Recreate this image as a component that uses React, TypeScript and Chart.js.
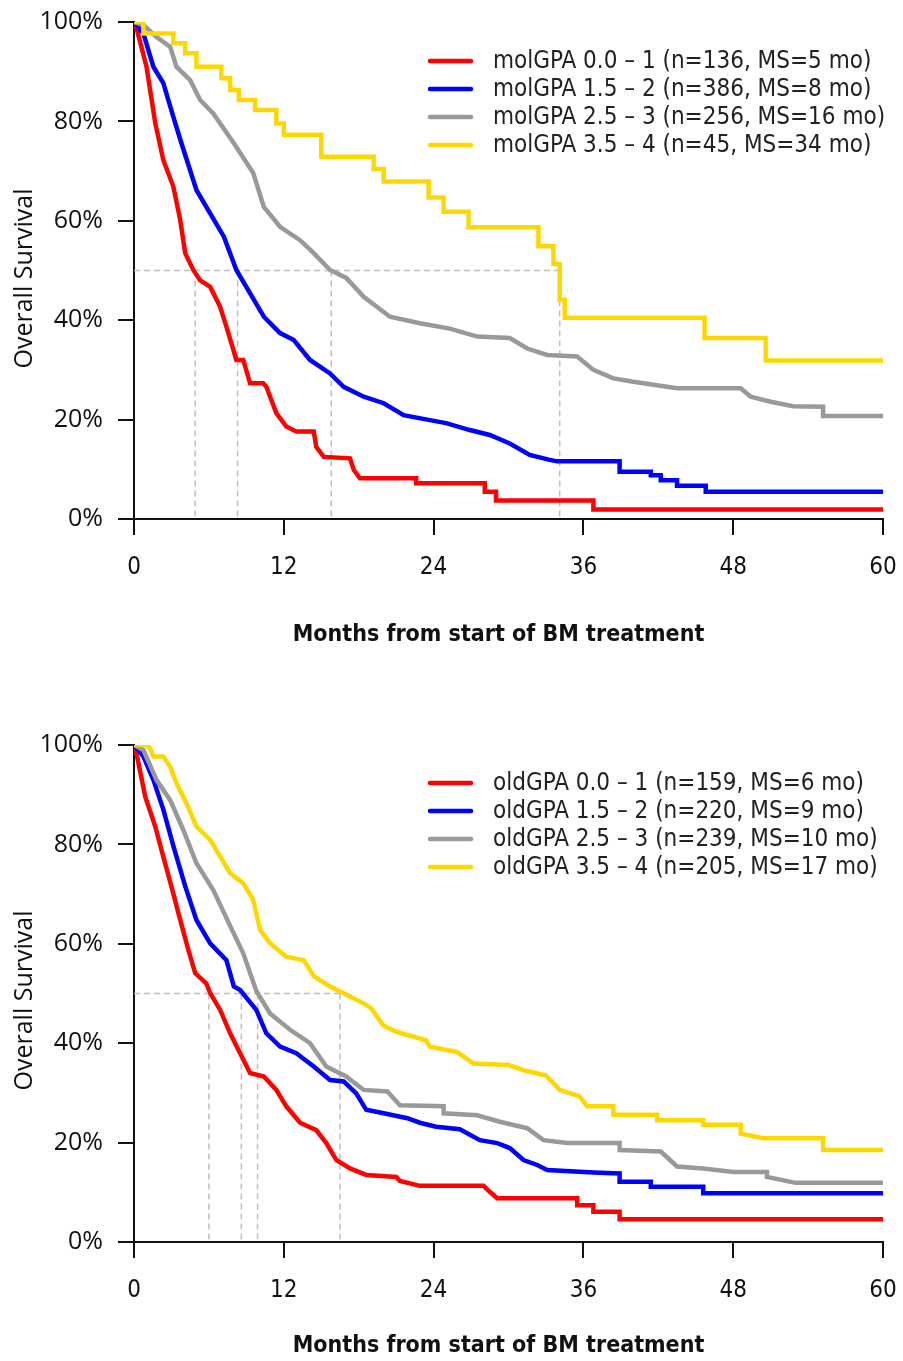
import React, { useEffect, useRef } from 'react';
import { Chart, registerables } from 'chart.js';

Chart.register(...registerables);

type Pt = [number, number];

// ---------- shared axis data ----------
const monthTicks = [0, 12, 24, 36, 48, 60];
const survivalTicks = [0, 20, 40, 60, 80, 100];
const seriesColors = ['#ff0000', '#0000ff', '#999999', '#ffd700'];
const xTitle = 'Months from start of BM treatment';
const yTitle = 'Overall Survival';

// ---------- top panel: molGPA ----------
const molLabels = [
  'molGPA 0.0 \u2013 1 (n=136, MS=5 mo)',
  'molGPA 1.5 \u2013 2 (n=386, MS=8 mo)',
  'molGPA 2.5 \u2013 3 (n=256, MS=16 mo)',
  'molGPA 3.5 \u2013 4 (n=45, MS=34 mo)',
];
const molMedians = [4.9, 8.3, 15.8, 34.1];

const molGpa0to1: Pt[] = [
  [0, 100], [0.2, 98.8], [1.0, 91], [1.7, 79.7], [2.35, 72.2], [3.15, 66.9], [3.7, 60.2],
  [4.1, 53.5], [4.75, 50.1], [5.3, 48], [6.1, 46.7], [6.9, 42.7], [7.4, 38.7], [8.2, 32],
  [8.75, 32], [9.3, 27.3], [10.35, 27.3], [10.6, 26.6], [11.4, 21.3], [12.2, 18.6], [13.0, 17.6],
  [14.4, 17.6], [14.6, 14.5], [15.2, 12.5], [17.3, 12.2], [17.6, 9.9], [18.1, 8.2], [22.6, 8.2],
  [22.6, 7.2], [28.1, 7.2], [28.1, 5.5], [29.0, 5.5], [29.0, 3.7], [36.8, 3.7], [36.8, 1.9], [60, 1.9],
];
const molGpa15to2: Pt[] = [
  [0, 100], [0.75, 97.7], [1.55, 91], [2.35, 87.7], [3.15, 80.9], [3.8, 75.6], [5.0, 66.2],
  [6.1, 61.5], [7.2, 56.8], [8.2, 50.1], [9.3, 45.4], [10.4, 40.7], [11.7, 37.4], [12.8, 36],
  [14.1, 32], [15.7, 29.3], [16.8, 26.6], [18.4, 24.6], [20.0, 23.3], [21.6, 20.9], [23.7, 19.9],
  [25.0, 19.3], [26.9, 17.9], [28.5, 16.9], [30.1, 15.2], [31.7, 12.9], [33.3, 11.9], [33.9, 11.6],
  [38.9, 11.6], [38.9, 9.5], [41.4, 9.5], [41.4, 8.8], [42.2, 8.8], [42.2, 7.8], [43.5, 7.8],
  [43.5, 6.7], [45.8, 6.7], [45.8, 5.5], [60, 5.5],
];
const molGpa25to3: Pt[] = [
  [0, 100], [0.75, 99.4], [1.8, 97], [2.9, 95], [3.4, 91], [4.5, 88.3], [5.3, 84.3], [6.35, 81.6],
  [8.0, 75.6], [9.55, 69.6], [10.4, 62.8], [11.7, 58.8], [13.3, 56.1], [14.4, 53.5], [15.7, 50.1],
  [17.0, 48.5], [18.4, 44.7], [20.5, 40.7], [22.9, 39.4], [25.3, 38.3], [27.5, 36.7], [30.1, 36.4],
  [31.5, 34.3], [33.1, 33], [35.5, 32.7], [36.8, 30], [38.4, 28.3], [40.0, 27.6], [43.5, 26.3],
  [48.6, 26.3], [49.4, 24.6], [51.0, 23.6], [52.8, 22.7], [55.2, 22.6], [55.2, 20.7], [60, 20.7],
];
const molGpa35to4: Pt[] = [
  [0, 100], [0.75, 100], [0.75, 97.7], [3.15, 97.7], [3.15, 95.7], [4.1, 95.7], [4.1, 93.7],
  [5.0, 93.7], [5.0, 91], [7.0, 91], [7.0, 88.7], [7.7, 88.7], [7.7, 86.3], [8.4, 86.3], [8.4, 84.3],
  [9.7, 84.3], [9.7, 82.3], [11.4, 82.3], [11.4, 79.6], [12.0, 79.6], [12.0, 77.3], [15.0, 77.3],
  [15.0, 72.9], [19.2, 72.9], [19.2, 70.4], [20.0, 70.4], [20.0, 67.9], [23.6, 67.9], [23.6, 64.7],
  [24.8, 64.7], [24.8, 61.8], [26.8, 61.8], [26.8, 58.7], [32.4, 58.7], [32.4, 54.9], [33.6, 54.9],
  [33.6, 51.3], [34.1, 51.3], [34.1, 44.1], [34.5, 44.1], [34.5, 40.5], [45.7, 40.5], [45.7, 36.4],
  [50.6, 36.4], [50.6, 31.9], [60, 31.9],
];

// ---------- bottom panel: oldGPA ----------
const oldLabels = [
  'oldGPA 0.0 \u2013 1 (n=159, MS=6 mo)',
  'oldGPA 1.5 \u2013 2 (n=220, MS=9 mo)',
  'oldGPA 2.5 \u2013 3 (n=239, MS=10 mo)',
  'oldGPA 3.5 \u2013 4 (n=205, MS=17 mo)',
];
const oldMedians = [6.0, 8.6, 9.9, 16.5];

const oldGpa0to1: Pt[] = [
  [0, 100], [0.2, 98.3], [0.9, 89.6], [1.7, 83.6], [2.2, 78.9], [3.0, 71.5], [3.7, 64.8],
  [4.35, 58.8], [4.9, 54.1], [5.8, 52], [6.1, 50.1], [6.9, 46.7], [7.7, 42], [8.5, 38], [9.3, 34],
  [10.4, 33.3], [11.4, 30.6], [12.2, 27.3], [13.3, 24], [14.6, 22.5], [15.4, 19.9], [16.2, 16.5],
  [17.3, 14.8], [18.6, 13.5], [21.0, 13.1], [21.3, 12.3], [22.9, 11.3], [28.0, 11.3], [28.5, 10.1],
  [29.1, 8.8], [35.5, 8.8], [35.5, 7.4], [36.8, 7.4], [36.8, 6.1], [38.9, 6.1], [38.9, 4.6], [60, 4.6],
];
const oldGpa15to2: Pt[] = [
  [0, 100], [0.75, 97.7], [1.55, 93], [2.35, 87], [3.15, 79.7], [4.1, 71.6], [5.0, 64.8],
  [6.1, 60.1], [7.4, 56.7], [8.0, 51.4], [8.5, 50.7], [9.8, 46.7], [10.6, 42], [11.7, 39.3],
  [13.0, 38], [14.4, 35.3], [15.7, 32.6], [16.8, 32.3], [17.8, 29.9], [18.6, 26.6], [20.0, 25.9],
  [21.9, 24.9], [22.9, 24], [24.2, 23.2], [26.1, 22.7], [27.7, 20.5], [29.1, 19.9], [30.1, 18.9],
  [31.2, 16.5], [32.3, 15.5], [33.1, 14.5], [36.8, 14.0], [38.9, 13.8], [38.9, 12.1], [41.4, 12.1],
  [41.4, 11.1], [45.6, 11.1], [45.6, 9.8], [60, 9.8],
];
const oldGpa25to3: Pt[] = [
  [0, 100], [0.75, 99], [1.8, 93], [2.9, 88.9], [3.95, 82.9], [5.0, 76.2], [6.35, 70.8],
  [7.7, 63.6], [8.75, 58.1], [9.8, 50.5], [10.9, 46], [12.5, 42.7], [14.1, 40], [15.4, 35.3],
  [17.0, 33.3], [18.4, 30.6], [20.3, 30.3], [21.3, 27.5], [24.8, 27.3], [24.8, 25.9], [27.5, 25.5],
  [29.3, 24.2], [31.5, 22.9], [32.8, 20.5], [34.7, 19.9], [38.9, 19.9], [38.9, 18.5], [42.2, 18.2],
  [43.5, 15.2], [45.6, 14.8], [48.0, 14.1], [50.7, 14.1], [50.7, 13.1], [53.0, 11.9], [60, 11.9],
];
const oldGpa35to4: Pt[] = [
  [0, 100], [1.0, 100], [1.3, 99.3], [1.55, 97.7], [2.35, 97.7], [2.9, 95.6], [3.4, 92.3],
  [4.2, 88.3], [5.0, 83.6], [6.1, 80.9], [7.7, 74.2], [8.75, 72.2], [9.55, 68.8], [10.1, 62.8],
  [10.9, 60.1], [12.2, 57.4], [13.6, 56.7], [14.4, 53.5], [15.7, 51.4], [16.5, 50.4], [17.3, 49.4],
  [18.4, 48], [19.0, 47], [20.0, 43.5], [21.0, 42.3], [22.4, 41.3], [23.4, 40.6], [23.7, 39.3],
  [25.9, 38.2], [27.2, 35.9], [30.0, 35.6], [31.3, 34.5], [33.0, 33.5], [34.1, 30.6], [35.7, 29.3],
  [36.3, 27.3], [38.4, 27.3], [38.4, 25.6], [41.9, 25.6], [41.9, 24.5], [45.6, 24.5], [45.6, 23.6],
  [48.6, 23.6], [48.6, 21.8], [50.4, 20.9], [55.2, 20.9], [55.2, 18.5], [60, 18.5],
];

const TICK_FONT = "'Open Sans', 'DejaVu Sans', sans-serif";
const COND_FONT = "'DejaVu Sans Condensed', 'Liberation Sans Narrow', 'DejaVu Sans', sans-serif";

interface KMProps {
  height: number;
  plotTop: number;
  plotBottom: number;
  series: Pt[][];
  labels: string[];
  medians: number[];
  legendY: number;
  xTitleY: number;
  yTitleShift: number;
}

function KMChart(props: KMProps) {
  const ref = useRef<HTMLCanvasElement>(null);
  useEffect(() => {
    const { height, plotTop, plotBottom, series, labels, medians, legendY, xTitleY, yTitleShift } = props;
    const datasets: any[] = [];
    series.forEach((s, i) => {
      datasets.push({
        label: labels[i],
        data: s.map(([x, y]) => ({ x, y })),
        borderColor: seriesColors[i],
        backgroundColor: seriesColors[i],
        borderWidth: 4.5,
        pointRadius: 0,
        fill: false,
        tension: 0,
        borderJoinStyle: 'miter',
        borderCapStyle: 'butt',
        order: 4 - i,
      });
    });
    const dashStyle = {
      borderColor: '#bfbfbf',
      borderWidth: 1.5,
      borderDash: [6, 4],
      pointRadius: 0,
      fill: false,
      order: 10,
    };
    datasets.push({ label: 'median50', data: [{ x: 0, y: 50 }, { x: Math.max(...medians), y: 50 }], ...dashStyle });
    medians.forEach((m, i) => {
      datasets.push({ label: 'median' + i, data: [{ x: m, y: 50 }, { x: m, y: 0 }], ...dashStyle });
    });

    const overlay = {
      id: 'kmOverlay',
      afterDraw(chart: any) {
        const ctx = chart.ctx;
        const area = chart.chartArea;
        ctx.save();
        // legend
        ctx.font = `24px ${COND_FONT}`;
        ctx.textBaseline = 'middle';
        ctx.textAlign = 'left';
        labels.forEach((lab, i) => {
          const y = legendY + i * 28;
          ctx.strokeStyle = seriesColors[i];
          ctx.lineWidth = 4.5;
          ctx.lineCap = 'round';
          ctx.beginPath();
          ctx.moveTo(430, y);
          ctx.lineTo(471, y);
          ctx.stroke();
          ctx.fillStyle = '#222';
          ctx.fillText(lab, 493, y + 1);
        });
        // x title
        ctx.font = `bold 23px ${COND_FONT}`;
        ctx.textAlign = 'center';
        ctx.fillStyle = '#111';
        ctx.fillText(xTitle, 498.5, xTitleY);
        // y title
        ctx.translate(25, (area.top + area.bottom) / 2 + yTitleShift);
        ctx.rotate(-Math.PI / 2);
        ctx.font = `25px ${TICK_FONT}`;
        ctx.fillText(yTitle, 0, 0);
        ctx.restore();
      },
    };

    const chart = new Chart(ref.current as HTMLCanvasElement, {
      type: 'line',
      data: { datasets },
      options: {
        animation: false,
        responsive: false,
        devicePixelRatio: 1,
        layout: { padding: { top: plotTop, right: 0, left: 0, bottom: 0 } },
        plugins: { legend: { display: false }, tooltip: { enabled: false } },
        elements: { line: { stepped: false } },
        scales: {
          x: {
            type: 'linear',
            min: monthTicks[0],
            max: monthTicks[monthTicks.length - 1],
            afterBuildTicks: (s: any) => { s.ticks = monthTicks.map((v) => ({ value: v })); },
            afterFit: (s: any) => {
              s.height = height - plotBottom;
              s.paddingRight = 20;
              s.paddingLeft = 0;
            },
            ticks: { color: '#111', padding: 18, maxRotation: 0, autoSkip: false, font: { family: COND_FONT, size: 24 } },
            grid: { drawOnChartArea: false, drawTicks: true, tickLength: 16, color: '#111', lineWidth: 2 },
            border: { display: true, color: '#111', width: 2 },
          },
          y: {
            type: 'linear',
            min: survivalTicks[0],
            max: survivalTicks[survivalTicks.length - 1],
            afterBuildTicks: (s: any) => { s.ticks = survivalTicks.map((v) => ({ value: v })); },
            afterFit: (s: any) => {
              s.width = 134;
              s.paddingTop = 0;
              s.paddingBottom = 0;
            },
            ticks: { color: '#111', padding: 15, autoSkip: false, font: { family: TICK_FONT, size: 25 }, callback: (v: any) => v + '%' },
            grid: { drawOnChartArea: false, drawTicks: true, tickLength: 16, color: '#111', lineWidth: 2 },
            border: { display: true, color: '#111', width: 2 },
          },
        },
      },
      plugins: [overlay],
    } as any);
    return () => chart.destroy();
  }, []);
  return (
    <canvas ref={ref} width={903} height={props.height} style={{ display: 'block', width: 903, height: props.height }} />
  );
}

export default function App() {
  return (
    <div style={{ position: 'absolute', left: 0, top: 0, width: 903, background: '#fff' }}>
      <KMChart
        height={680}
        plotTop={22}
        plotBottom={519}
        series={[molGpa0to1, molGpa15to2, molGpa25to3, molGpa35to4]}
        labels={molLabels}
        medians={molMedians}
        legendY={61}
        xTitleY={635}
        yTitleShift={8}
      />
      <KMChart
        height={681}
        plotTop={65}
        plotBottom={562}
        series={[oldGpa0to1, oldGpa15to2, oldGpa25to3, oldGpa35to4]}
        labels={oldLabels}
        medians={oldMedians}
        legendY={103}
        xTitleY={666}
        yTitleShift={7}
      />
    </div>
  );
}
